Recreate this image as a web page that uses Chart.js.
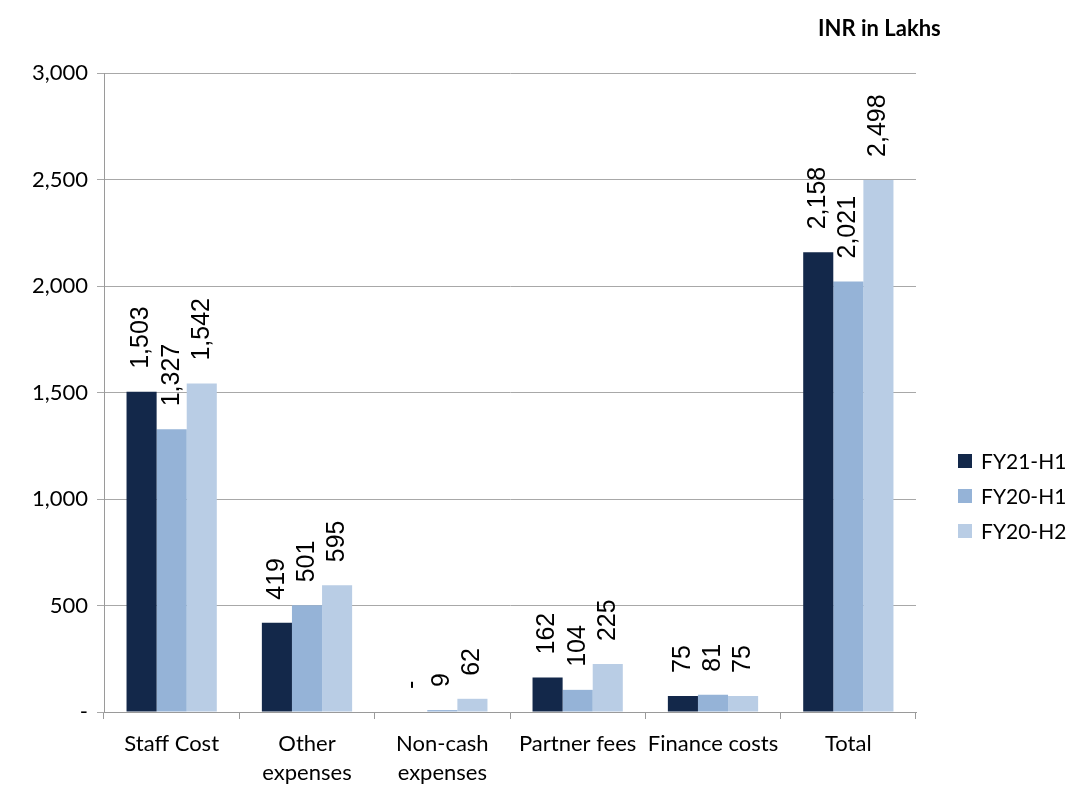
<!DOCTYPE html>
<html>
<head>
<meta charset="utf-8">
<script src="https://cdn.jsdelivr.net/npm/chart.js@4.4.1/dist/chart.umd.min.js"></script>
<style>
  html, body { margin: 0; padding: 0; background: #ffffff; }
  #wrap { position: relative; width: 1072px; height: 785px; }
  #title { position: absolute; left: 818px; top: 14px; font-family: Lato, "Open Sans", sans-serif; font-weight: bold; font-size: 22px; color: #000; }
  #legend { position: absolute; left: 958px; top: 443px; font-family: Lato, "Open Sans", sans-serif; font-size: 21px; color: #000; }
  .item { display: flex; align-items: center; height: 35px; }
  .sw { width: 14px; height: 14px; margin-right: 9px; }
</style>
</head>
<body>
<div id="wrap">
  <canvas id="c" width="1072" height="785"></canvas>
  <div id="title">INR in Lakhs</div>
  <div id="legend"></div>
</div>
<script>
const categories = [["Staff Cost"], ["Other", "expenses"], ["Non-cash", "expenses"], ["Partner fees"], ["Finance costs"], ["Total"]];
const seriesNames = ["FY21-H1", "FY20-H1", "FY20-H2"];
const fy21h1 = [1503, 419, 0, 162, 75, 2158];
const fy20h1 = [1327, 501, 9, 104, 81, 2021];
const fy20h2 = [1542, 595, 62, 225, 75, 2498];
const yTicks = [0, 500, 1000, 1500, 2000, 2500, 3000];
const colors = ["#13284a", "#95b3d7", "#b9cde5"];

const fmt = v => v === 0 ? "-" : v.toLocaleString("en-US");

const legendEl = document.getElementById("legend");
seriesNames.forEach((n, i) => {
  const d = document.createElement("div");
  d.className = "item";
  d.innerHTML = '<div class="sw" style="background:' + colors[i] + '"></div><span>' + n + '</span>';
  legendEl.appendChild(d);
});

const labelPlugin = {
  id: "valLabels",
  afterDatasetsDraw(chart) {
    const ctx = chart.ctx;
    ctx.save();
    ctx.font = "25px 'Liberation Sans', Arial, sans-serif";
    ctx.fillStyle = "#000";
    ctx.textAlign = "left";
    ctx.textBaseline = "middle";
    chart.data.datasets.forEach((ds, di) => {
      const meta = chart.getDatasetMeta(di);
      meta.data.forEach((el, i) => {
        const v = ds.data[i];
        ctx.save();
        ctx.translate(el.x, el.y - 23);
        ctx.rotate(-Math.PI / 2);
        ctx.fillText(fmt(v), 0, 0);
        ctx.restore();
      });
    });
    ctx.restore();
  }
};

new Chart(document.getElementById("c"), {
  type: "bar",
  data: {
    labels: categories,
    datasets: [
      { label: seriesNames[0], data: fy21h1, backgroundColor: colors[0] },
      { label: seriesNames[1], data: fy20h1, backgroundColor: colors[1] },
      { label: seriesNames[2], data: fy20h2, backgroundColor: colors[2] }
    ]
  },
  options: {
    responsive: false,
    animation: false,
    events: [],
    layout: { padding: { top: 73, right: 156, bottom: 0, left: 0 } },
    datasets: { bar: { categoryPercentage: 0.667, barPercentage: 1.0 } },
    plugins: { legend: { display: false }, tooltip: { enabled: false } },
    scales: {
      x: {
        afterFit(s) { s.height = 73; },
        grid: { offset: true, drawOnChartArea: false, drawTicks: true, tickLength: 7, color: "#9a9a9a" },
        border: { color: "#9a9a9a", width: 1 },
        ticks: { color: "#000", padding: 11, font: { family: "Lato, 'Open Sans', sans-serif", size: 22, lineHeight: 1.3 }, maxRotation: 0, autoSkip: false }
      },
      y: {
        min: 0, max: 3000,
        afterFit(s) { s.width = 104; },
        afterBuildTicks(s) { s.ticks = yTicks.map(v => ({ value: v })); },
        grid: { color: "#a8a8a8", tickLength: 7, drawTicks: true },
        border: { color: "#9a9a9a", width: 1 },
        ticks: { color: "#000", padding: 9, callback: v => fmt(v), font: { family: "Lato, 'Open Sans', sans-serif", size: 22 } }
      }
    }
  },
  plugins: [labelPlugin]
});
</script>
</body>
</html>
